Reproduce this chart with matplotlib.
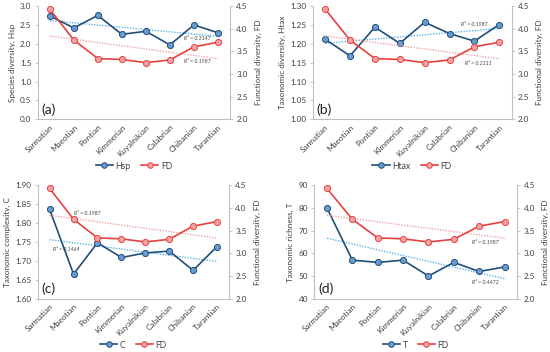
import numpy as np
import matplotlib
matplotlib.use("Agg")
import matplotlib.pyplot as plt
from matplotlib.lines import Line2D

plt.rcParams['font.family'] = ['Lato', 'DejaVu Sans']

categories = ["Sarmatian", "Maeotian", "Pontian", "Kimmerian", "Kuyalnikian",
              "Calabrian", "Chibanian", "Tarantian"]
FD = [4.43, 3.75, 3.34, 3.32, 3.25, 3.31, 3.60, 3.70]
Hsp = [2.74, 2.42, 2.75, 2.25, 2.33, 1.97, 2.50, 2.29]
Htax = [1.212, 1.168, 1.244, 1.201, 1.257, 1.227, 1.207, 1.251]
C = [1.836, 1.665, 1.748, 1.709, 1.721, 1.726, 1.675, 1.738]
T = [80, 57, 56, 57, 50, 56, 52, 54]

panels = [
    dict(name="Hsp", vals=Hsp, ylabel="Species diversity, Hsp", ylim=(0, 3.0),
         yticks=np.arange(0, 3.01, 0.5), fmt="{:.1f}", tag="(a)",
         r2_main="R² = 0.3147", r2_fd="R² = 0.1987",
         r2_main_pos=(0.83, 0.71), r2_fd_pos=(0.83, 0.51),
         rect=[37.7, 6, 230, 119.3], legy=166),
    dict(name="Htax", vals=Htax, ylabel="Taxonomic diversity, Htax", ylim=(1.0, 1.30),
         yticks=np.arange(1.0, 1.301, 0.05), fmt="{:.2f}", tag="(b)",
         r2_main="R² = 0.1987", r2_fd="R² = 0.2111",
         r2_main_pos=(0.81, 0.84), r2_fd_pos=(0.83, 0.49),
         rect=[312.7, 6, 511.7, 119.3], legy=166),
    dict(name="C", vals=C, ylabel="Taxonomic complexity, C", ylim=(1.60, 1.90),
         yticks=np.arange(1.60, 1.901, 0.05), fmt="{:.2f}", tag="(c)",
         r2_main="R² = 0.1464", r2_fd="R² = 0.1987",
         r2_main_pos=(0.15, 0.43), r2_fd_pos=(0.26, 0.75),
         rect=[37.7, 185.3, 229, 298.7], legy=345),
    dict(name="T", vals=T, ylabel="Taxonomic richness, T", ylim=(40, 90),
         yticks=np.arange(40, 91, 10), fmt="{:.0f}", tag="(d)",
         r2_main="R² = 0.4472", r2_fd="R² = 0.1987",
         r2_main_pos=(0.84, 0.145), r2_fd_pos=(0.84, 0.50),
         rect=[314.3, 185.3, 517.3, 298.7], legy=345),
]

W, H = 550, 352
fig = plt.figure(figsize=(5.5, 3.52), dpi=100)

blue_line = "#1F4E79"
blue_fill = "#6A9BD1"
red_line = "#E8403F"
red_fill = "#F2A3A3"
blue_trend = "#5DB3E6"
red_trend = "#F4A3A3"
grey = "#BFBFBF"
txt = "#404040"
fs = 5.9

x = np.arange(len(categories))
for p in panels:
    l, t, r, b = p["rect"]
    ax = fig.add_axes([l / W, 1 - b / H, (r - l) / W, (b - t) / H])
    ax2 = ax.twinx()
    vals = np.array(p["vals"], dtype=float)
    fd = np.array(FD)

    # trendlines
    cm = np.polyfit(x, vals, 1)
    cf = np.polyfit(x, fd, 1)
    ax.plot(x, np.polyval(cm, x), ls=(0, (1, 1)), color=blue_trend, lw=1.0, zorder=2)
    ax2.plot(x, np.polyval(cf, x), ls=(0, (1, 1)), color=red_trend, lw=1.0, zorder=2)

    ax.plot(x, vals, color=blue_line, lw=1.2, marker="o", ms=4.4,
            mfc=blue_fill, mec=blue_line, mew=0.7, zorder=4)
    ax2.plot(x, fd, color=red_line, lw=1.2, marker="o", ms=4.4,
             mfc=red_fill, mec=red_line, mew=0.7, zorder=4)

    ax.set_xlim(-0.5, len(categories) - 0.5)
    ax.set_ylim(*p["ylim"])
    ax2.set_ylim(2.0, 4.5)
    ax.set_yticks(p["yticks"])
    ax.set_yticklabels([p["fmt"].format(v) for v in p["yticks"]])
    ax2.set_yticks(np.arange(2.0, 4.51, 0.5))
    ax2.set_yticklabels(["{:.1f}".format(v) for v in np.arange(2.0, 4.51, 0.5)])
    ax.set_xticks(x)
    ax.set_xticklabels(categories, rotation=45, ha="right", rotation_mode="anchor")

    for a in (ax, ax2):
        a.spines["top"].set_visible(False)
        for s in ("left", "right", "bottom"):
            a.spines[s].set_color(grey)
            a.spines[s].set_linewidth(0.8)
        a.tick_params(axis="both", labelsize=fs, colors=txt, length=2.5,
                      width=0.6, pad=2)
        a.tick_params(axis="both", color=grey)
    ax.tick_params(axis="x", length=0, pad=3)
    ax.spines["right"].set_visible(False)
    ax2.spines["left"].set_visible(False)
    ax2.spines["bottom"].set_visible(False)

    ax.set_ylabel(p["ylabel"], fontsize=fs, color=txt, labelpad=3)
    ax2.set_ylabel("Functional diversity, FD", fontsize=fs, color=txt, labelpad=5)

    ax.text(0.02, 0.03, p["tag"], transform=ax.transAxes, fontsize=10,
            color="#222222", ha="left", va="bottom")
    ax.text(*p["r2_main_pos"], p["r2_main"], transform=ax.transAxes, fontsize=3.8,
            style="italic", color="#404040", ha="center", va="center", zorder=5)
    ax.text(*p["r2_fd_pos"], p["r2_fd"], transform=ax.transAxes, fontsize=3.8,
            style="italic", color="#404040", ha="center", va="center", zorder=5)

    handles = [
        Line2D([], [], color=blue_line, lw=1.2, marker="o", ms=4, mfc=blue_fill,
               mec=blue_line, mew=0.7),
        Line2D([], [], color=red_line, lw=1.2, marker="o", ms=4, mfc=red_fill,
               mec=red_line, mew=0.7),
    ]
    cx = (l + r) / 2 / W
    fig.legend(handles, [p["name"], "FD"], loc="center", ncol=2, frameon=False,
               fontsize=6.2, bbox_to_anchor=(cx, 1 - p["legy"] / H),
               handlelength=2.0, columnspacing=1.2, handletextpad=0.3,
               labelcolor=txt)

fig.savefig("out.png", dpi=100)
